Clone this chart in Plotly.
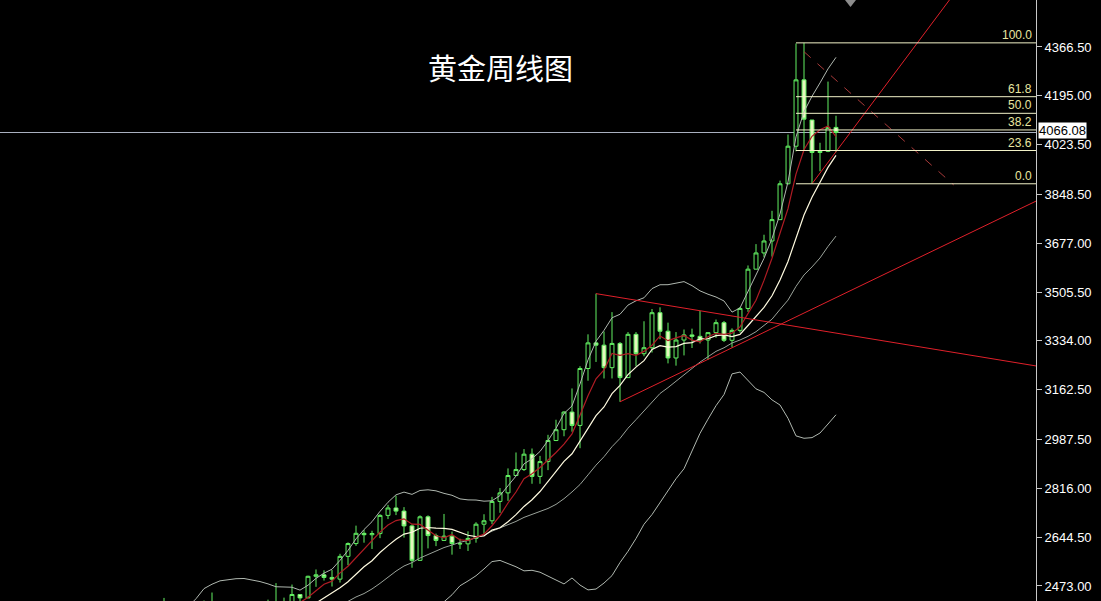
import pandas as pd
import numpy as np
import plotly.graph_objects as go

# ---------------- data: weekly gold (XAUUSD) candles ----------------
first_week = "2023-10-02"

opens_2023 = [1848, 1833, 1933, 1981, 2006, 1993, 1940, 1981, 2002, 2072, 2004, 2019, 2053]
highs_2023 = [1863, 1933, 1997, 2009, 2010, 1993, 1993, 2017, 2075, 2146, 2047, 2070, 2088]
lows_2023 = [1810, 1832, 1908, 1954, 1953, 1932, 1931, 1965, 2001, 2010, 1973, 2016, 2047]
closes_2023 = [1833, 1933, 1981, 2006, 1993, 1940, 1981, 2002, 2072, 2004, 2019, 2053, 2063]

opens_2024 = [2063, 2049, 2049, 2029, 2018, 2039, 2024, 2013, 2035, 2083, 2179, 2155, 2165,
              2230, 2329, 2344, 2392, 2337, 2301, 2360, 2415, 2333, 2327, 2293, 2333, 2322,
              2326, 2392, 2411, 2400, 2386, 2443, 2431, 2507, 2512, 2503, 2497, 2577, 2622,
              2658, 2653, 2657, 2721, 2747, 2736, 2684, 2563, 2716, 2650, 2633, 2648, 2622, 2621]
highs_2024 = [2078, 2062, 2062, 2037, 2065, 2044, 2032, 2041, 2088, 2195, 2185, 2222, 2236,
              2330, 2431, 2418, 2395, 2346, 2378, 2422, 2450, 2364, 2387, 2336, 2368, 2339,
              2392, 2425, 2483, 2432, 2478, 2444, 2509, 2531, 2528, 2529, 2586, 2626, 2685,
              2670, 2667, 2725, 2758, 2790, 2750, 2689, 2721, 2721, 2657, 2726, 2664, 2639, 2665]
lows_2024 = [2016, 2013, 2001, 2010, 2016, 2015, 1984, 2010, 2024, 2078, 2146, 2146, 2163,
             2228, 2326, 2325, 2291, 2277, 2291, 2338, 2325, 2324, 2287, 2286, 2295, 2293,
             2318, 2353, 2394, 2353, 2380, 2364, 2436, 2470, 2492, 2471, 2485, 2546, 2614,
             2625, 2603, 2641, 2708, 2722, 2643, 2537, 2563, 2605, 2613, 2631, 2583, 2603, 2596]
closes_2024 = [2049, 2049, 2029, 2018, 2039, 2024, 2013, 2035, 2083, 2179, 2155, 2165, 2230,
               2329, 2344, 2392, 2337, 2301, 2360, 2415, 2333, 2327, 2293, 2333, 2322, 2326,
               2392, 2411, 2400, 2386, 2443, 2431, 2507, 2512, 2503, 2497, 2577, 2622, 2658,
               2653, 2657, 2721, 2747, 2736, 2684, 2563, 2716, 2650, 2633, 2648, 2622, 2621, 2640]

opens_2025 = [2640, 2690, 2702, 2770, 2800, 2861, 2882, 2936, 2858, 2910, 2984, 3022, 3084,
              3037, 3237, 3327, 3319, 3240, 3325, 3205, 3357, 3289, 3310, 3433, 3368, 3274,
              3337, 3355, 3350, 3337, 3363, 3398, 3336, 3371, 3448, 3586, 3643, 3685, 3760,
              3886, 4018, 4251, 4110, 3996, 4000, 4084]
highs_2025 = [2697, 2725, 2786, 2817, 2886, 2942, 2954, 2956, 2930, 3004, 3057, 3087, 3167,
              3245, 3357, 3500, 3367, 3435, 3330, 3365, 3365, 3403, 3446, 3452, 3398, 3365,
              3374, 3377, 3439, 3363, 3409, 3404, 3378, 3453, 3599, 3674, 3707, 3791, 3897,
              4059, 4379, 4381, 4110, 4030, 4245, 4125]
lows_2025 = [2625, 2656, 2690, 2730, 2772, 2860, 2877, 2832, 2832, 2880, 2982, 2999, 3015,
             2957, 3194, 3260, 3202, 3202, 3120, 3204, 3245, 3280, 3293, 3340, 3255, 3247,
             3283, 3309, 3325, 3268, 3345, 3330, 3311, 3363, 3436, 3586, 3628, 3630, 3760,
             3884, 4000, 4004, 3886, 3930, 3997, 3997]
closes_2025 = [2690, 2702, 2770, 2800, 2861, 2882, 2936, 2858, 2910, 2984, 3022, 3084, 3037,
               3237, 3327, 3319, 3240, 3325, 3205, 3357, 3289, 3310, 3433, 3368, 3274, 3337,
               3355, 3350, 3337, 3363, 3398, 3336, 3371, 3448, 3586, 3643, 3685, 3760, 3886,
               4018, 4251, 4113, 3996, 4000, 4084, 4066.08]

# axis ticks (price scale on the right)
tick_values = [4366.5, 4195.0, 4023.5, 3848.5, 3677.0, 3505.5, 3334.0, 3162.5,
               2987.5, 2816.0, 2644.5, 2473.0]

current_price = 4066.08

# Fibonacci retracement (drawn on the last swing)
fib_start = "2025-10-13"
fib_high = 4381
fib_low = 3886
fib_ratios = [1.0, 0.618, 0.5, 0.382, 0.236, 0.0]
fib_labels = ["100.0", "61.8", "50.0", "38.2", "23.6", "0.0"]

# hand-drawn trend lines (anchor dates / prices)
tl_desc_x = ["2025-04-21", "2026-05-11"]
tl_desc_y = [3500, 3246]
tl_rise_x = ["2025-05-12", "2026-05-11"]
tl_rise_y = [3120, 3825]
tl_steep_x = ["2025-10-27", "2026-03-09"]
tl_steep_y = [3886, 4600]
tl_dash_x = ["2025-10-20", "2026-02-28"]
tl_dash_y = [4350, 3882]

title_text = "黄金周线图"

# ---------------- assemble ----------------
opens = opens_2023 + opens_2024 + opens_2025
highs = highs_2023 + highs_2024 + highs_2025
lows = lows_2023 + lows_2024 + lows_2025
closes = closes_2023 + closes_2024 + closes_2025
assert len(opens) == len(highs) == len(lows) == len(closes)
dates = pd.date_range(first_week, periods=len(closes), freq="7D")
close_s = pd.Series(closes, index=dates, dtype=float)

ma5 = close_s.rolling(5).mean()
ma10 = close_s.rolling(10).mean()
ma20 = close_s.rolling(20).mean()
sd20 = close_s.rolling(20).std(ddof=0)
bb_up = ma20 + 2 * sd20
bb_dn = ma20 - 2 * sd20

last = dates[-1]
x_left = last - pd.Timedelta(weeks=104.5)
x_right = last + pd.Timedelta(weeks=25)

fig = go.Figure()

for s, c in [(bb_up, "#b0b8b0"), (bb_dn, "#b0b8b0"), (ma20, "#9aa29a")]:
    fig.add_trace(go.Scatter(x=dates, y=s, mode="lines",
                             line=dict(color=c, width=1), hoverinfo="skip"))

fig.add_trace(go.Scatter(x=dates, y=ma10, mode="lines",
                         line=dict(color="#fffbe0", width=1.2), hoverinfo="skip"))
fig.add_trace(go.Scatter(x=dates, y=ma5, mode="lines",
                         line=dict(color="#b01c24", width=1.2), hoverinfo="skip"))

# trend lines
for xs, ys, dash, col in [(tl_desc_x, tl_desc_y, "solid", "#e0202a"),
                          (tl_rise_x, tl_rise_y, "solid", "#e0202a"),
                          (tl_steep_x, tl_steep_y, "solid", "#e0202a"),
                          (tl_dash_x, tl_dash_y, "dash", "#a83a3a")]:
    fig.add_trace(go.Scatter(x=xs, y=ys, mode="lines",
                             line=dict(color=col, width=1, dash=dash), hoverinfo="skip"))

# Fibonacci levels
fib_prices = [fib_low + r * (fib_high - fib_low) for r in fib_ratios]
for p in fib_prices:
    fig.add_trace(go.Scatter(x=[pd.Timestamp(fib_start), x_right], y=[p, p], mode="lines",
                             line=dict(color="#f2f2c8", width=1), hoverinfo="skip"))

# candles
fig.add_trace(go.Candlestick(
    x=dates, open=opens, high=highs, low=lows, close=closes,
    increasing=dict(line=dict(color="#62f062", width=1), fillcolor="#000000"),
    decreasing=dict(line=dict(color="#62f062", width=1), fillcolor="#e4f7bd"),
    whiskerwidth=0, hoverinfo="skip"))

shapes = [
    dict(type="line", xref="paper", x0=0, x1=1, yref="y", y0=current_price, y1=current_price,
         line=dict(color="#a9b0bf", width=1), layer="below"),
    dict(type="path", xref="paper", yref="paper",
         path=f"M {845/1036} 1 L {856/1036} 1 L {850.5/1036} {1-7/601} Z",
         fillcolor="#8c8c8c", line=dict(width=0)),
]

annotations = [
    dict(text=title_text, xref="paper", yref="paper", x=500/1036, y=1-67/601,
         xanchor="center", yanchor="middle", showarrow=False,
         font=dict(family="Noto Sans CJK SC", size=29, color="#ffffff")),
    dict(text=f"{current_price:.2f}", xref="paper", yref="y", x=1, y=current_price,
         xanchor="left", yanchor="middle", xshift=2, yshift=2, showarrow=False,
         bgcolor="#ffffff", borderpad=0,
         font=dict(family="Liberation Sans", size=13, color="#000000")),
]
for p, lab in zip(fib_prices, fib_labels):
    annotations.append(dict(text=lab, xref="paper", yref="y", x=1, y=p,
                            xanchor="right", yanchor="bottom", xshift=-2, yshift=-1,
                            showarrow=False,
                            font=dict(family="Liberation Sans", size=12, color="#e8e6a0")))

fig.update_layout(
    width=1101, height=601,
    margin=dict(l=0, r=65, t=0, b=0),
    paper_bgcolor="#000000", plot_bgcolor="#000000",
    showlegend=False, hovermode=False,
    shapes=shapes, annotations=annotations,
    xaxis=dict(visible=False, range=[x_left, x_right], rangeslider=dict(visible=False),
               type="date"),
    yaxis=dict(side="right", range=[2420.2, 4531.6], showgrid=False, zeroline=False,
               showline=True, linecolor="#c8c8c8", linewidth=1,
               ticks="outside", ticklen=5, tickcolor="#c8c8c8",
               tickvals=tick_values, ticktext=[f"{v:.2f}" for v in tick_values],
               tickfont=dict(family="Liberation Sans", size=13, color="#ffffff")),
)

fig.write_html("out.html", config={"displayModeBar": False},
               post_script="document.body.style.margin='0';document.body.style.background='#000';")
